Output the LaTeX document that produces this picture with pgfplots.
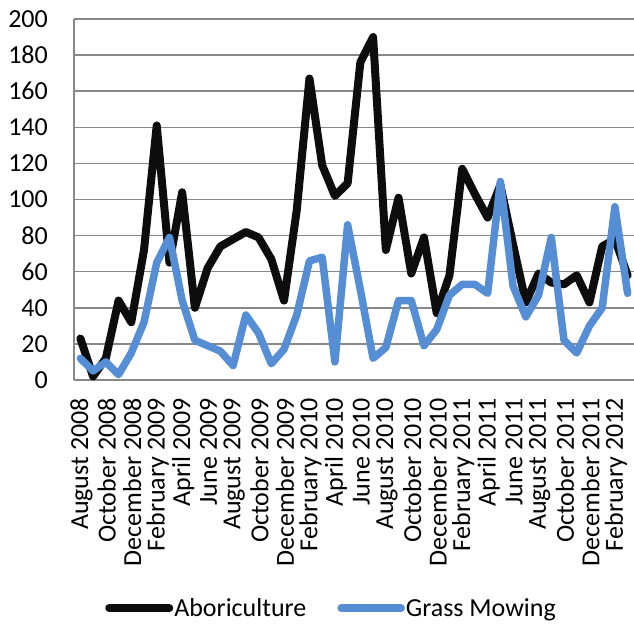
\documentclass[border=0pt]{standalone}
\usepackage{pgfplots}
\pgfplotsset{compat=1.18}
\usepackage{fontspec}
\setmainfont{Carlito}
\definecolor{gridgray}{HTML}{888888}
\definecolor{mowblue}{HTML}{558ED5}
\definecolor{abblack}{HTML}{0D0D0D}
\begin{document}
\begin{tikzpicture}
\begin{axis}[
  scale only axis,
  width=560pt, height=361pt,
  xmin=-0.5, xmax=43.5,
  ymin=0, ymax=200,
  ytick={0,20,...,200},
  xtick={0,2,...,42},
  xticklabels={August 2008,October 2008,December 2008,February 2009,April 2009,June 2009,August 2009,October 2009,December 2009,February 2010,April 2010,June 2010,August 2010,October 2010,December 2010,February 2011,April 2011,June 2011,August 2011,October 2011,December 2011,February 2012},
  axis x line*=bottom, axis y line*=left,
  axis line style={gridgray, line width=1.5pt, -},
  major tick length=0pt,
  ymajorgrids,
  grid style={gridgray, line width=1.5pt},
  /pgf/number format/assume math mode=true,
  tick label style={font=\fontsize{26}{31}\selectfont, text=black},
  yticklabel style={anchor=east, inner sep=0pt, xshift=-26pt},
  xticklabel style={rotate=90, anchor=east, inner sep=0pt, xshift=-18pt, yshift=-1pt},
  legend style={draw=none, at={(0.459,-0.632)}, anchor=center,
    font=\fontsize{26}{31}\selectfont, nodes={inner sep=1pt},
    /tikz/every even column/.append style={column sep=30pt}},
  legend columns=2,
  legend image code/.code={\draw[#1] (0pt,0pt) -- (60pt,0pt);},
  clip=false,
]
\addplot[abblack, line width=8pt, line join=round, line cap=round] coordinates {
(0,23) (1,2) (2,12) (3,44) (4,32) (5,72) (6,141) (7,65) (8,104) (9,40)
(10,62) (11,74) (12,78) (13,82) (14,79) (15,67) (16,44) (17,94) (18,167) (19,119)
(20,102) (21,109) (22,176) (23,190) (24,72) (25,101) (26,59) (27,79) (28,37) (29,58)
(30,117) (31,103) (32,90) (33,108) (34,75) (35,43) (36,59) (37,54) (38,53) (39,58)
(40,43) (41,74) (42,78) (43,58)};
\addlegendentry{Aboriculture}
\addplot[mowblue, line width=7.5pt, line join=round, line cap=round] coordinates {
(0,12) (1,5) (2,10) (3,3) (4,15) (5,32) (6,65) (7,79) (8,44) (9,22)
(10,19) (11,16) (12,8) (13,36) (14,26) (15,9) (16,17) (17,36) (18,66) (19,68)
(20,10) (21,86) (22,50) (23,12) (24,18) (25,44) (26,44) (27,19) (28,28) (29,47)
(30,53) (31,53) (32,48) (33,110) (34,52) (35,35) (36,47) (37,79) (38,22) (39,15)
(40,30) (41,40) (42,96) (43,48)};
\addlegendentry{Grass Mowing}
\end{axis}
\pgfresetboundingbox
\path (-74pt,-246pt) rectangle (560pt,380pt);
\end{tikzpicture}
\end{document}
